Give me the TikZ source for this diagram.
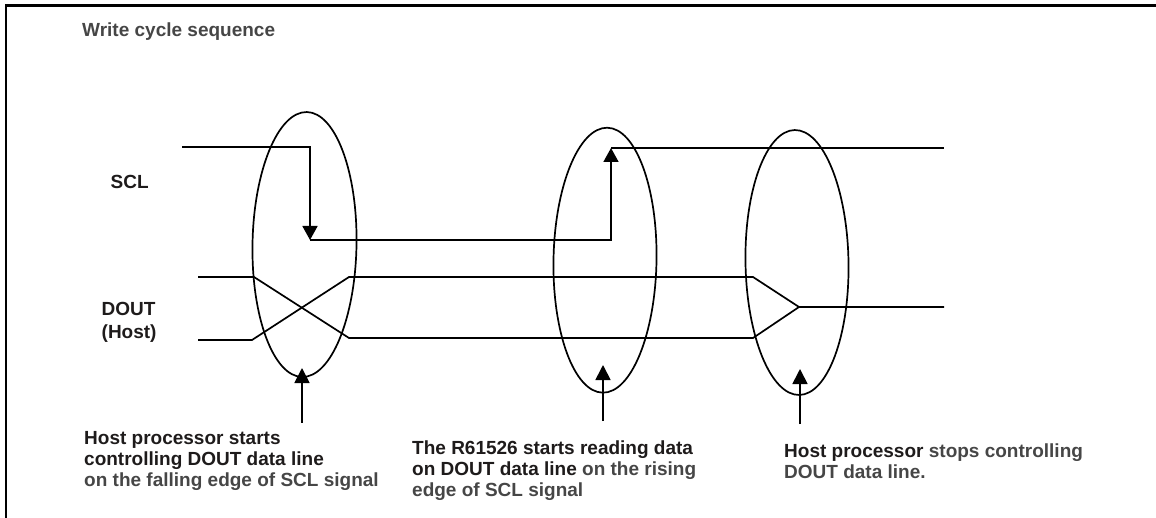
\documentclass[tikz,border=0pt]{standalone}
\usepackage{fontspec}
\setmainfont{Liberation Sans}
\usetikzlibrary{arrows.meta,shapes.geometric}
\definecolor{ink}{RGB}{30,27,27}
\definecolor{soft}{RGB}{70,70,70}
\begin{document}
\begin{tikzpicture}[x=1pt,y=-1pt,
  wave/.style={line width=1.7pt, black, line join=miter},
  ring/.style={draw, ellipse, line width=1.7pt, minimum width=104pt,
               minimum height=265pt, inner sep=0pt},
  pointer/.style={line width=1.7pt, -{Triangle[length=15pt,width=15pt]}},
  edgetip/.style={-{Triangle[length=14pt,width=15pt]}},
  lbl/.style={inner sep=0pt, anchor=base west,
              font=\fontsize{19}{21}\selectfont\bfseries, text=ink},
]
\useasboundingbox (0,0) rectangle (1156,518);

% frame edges
\coordinate (fb) at (6,518);
\coordinate (fc) at (6,5.5);
\coordinate (fr) at (1156,5.5);
\draw[line width=2.2pt] (fb) -- (fc) -- (fr);

% title and signal names
\node[lbl, text=soft] (title) at (82,36.5) {Write cycle sequence};
\node[lbl] (scl) at (110.5,188.5) {SCL};
\node[lbl] (dout) at (101.5,316) {DOUT};
\node[lbl] (host) at (101.5,338.5) {(Host)};

% highlight ellipses
\node[ring, rotate=-1] (e1) at (304.5,244.5) {};
\node[ring, rotate=-1, minimum width=103pt] (e2) at (605,260.2) {};
\node[ring, rotate=1, minimum width=103pt] (e3) at (797,262.5) {};

% SCL waveform
\coordinate (s0) at (182,147);
\coordinate (s1) at (310,147);
\coordinate (s2) at (310,240);
\coordinate (s3) at (611,240);
\coordinate (s4) at (611,148);
\coordinate (s5) at (944,148);
\draw[wave, edgetip] (s0) -- (s1) -- (s2);
\draw[wave, edgetip] (s2) -- (s3) -- (s4);
\draw[wave] (s4) -- (s5);

% DOUT waveform
\coordinate (d0) at (198,277);
\coordinate (d1) at (254,277);
\coordinate (d2) at (349,338);
\coordinate (d3) at (753,338);
\coordinate (d4) at (799,307);
\coordinate (d5) at (944,307);
\coordinate (u0) at (198,340);
\coordinate (u1) at (252,340);
\coordinate (u2) at (349,277);
\coordinate (u3) at (753,277);
\draw[wave] (d0) -- (d1) -- (d2) -- (d3) -- (d4) -- (d5);
\draw[wave] (u0) -- (u1) -- (u2) -- (u3) -- (d4);

% pointers to the ellipses
\coordinate (p1) at (302,422.5);
\coordinate (t1) at (302,368);
\coordinate (p2) at (603,421);
\coordinate (t2) at (603,365);
\coordinate (p3) at (800,424);
\coordinate (t3) at (800,369);
\draw[pointer] (p1) -- (t1);
\draw[pointer] (p2) -- (t2);
\draw[pointer] (p3) -- (t3);

% captions
\node[lbl] (c1a) at (84,444) {Host processor starts};
\node[lbl] (c1b) at (84,465) {controlling DOUT data line};
\node[lbl, text=soft] (c1c) at (84,486) {on the falling edge of SCL signal};

\node[lbl] (c2a) at (412,454) {The R61526 starts reading data};
\node[lbl] (c2b) at (412,475) {on DOUT data line \textcolor{soft}{on the rising}};
\node[lbl, text=soft] (c2c) at (412,496) {edge of SCL signal};

\node[lbl] (c3a) at (784,457) {Host processor \textcolor{soft}{stops controlling}};
\node[lbl, text=soft] (c3b) at (784,478) {DOUT data line.};
\end{tikzpicture}
\end{document}
